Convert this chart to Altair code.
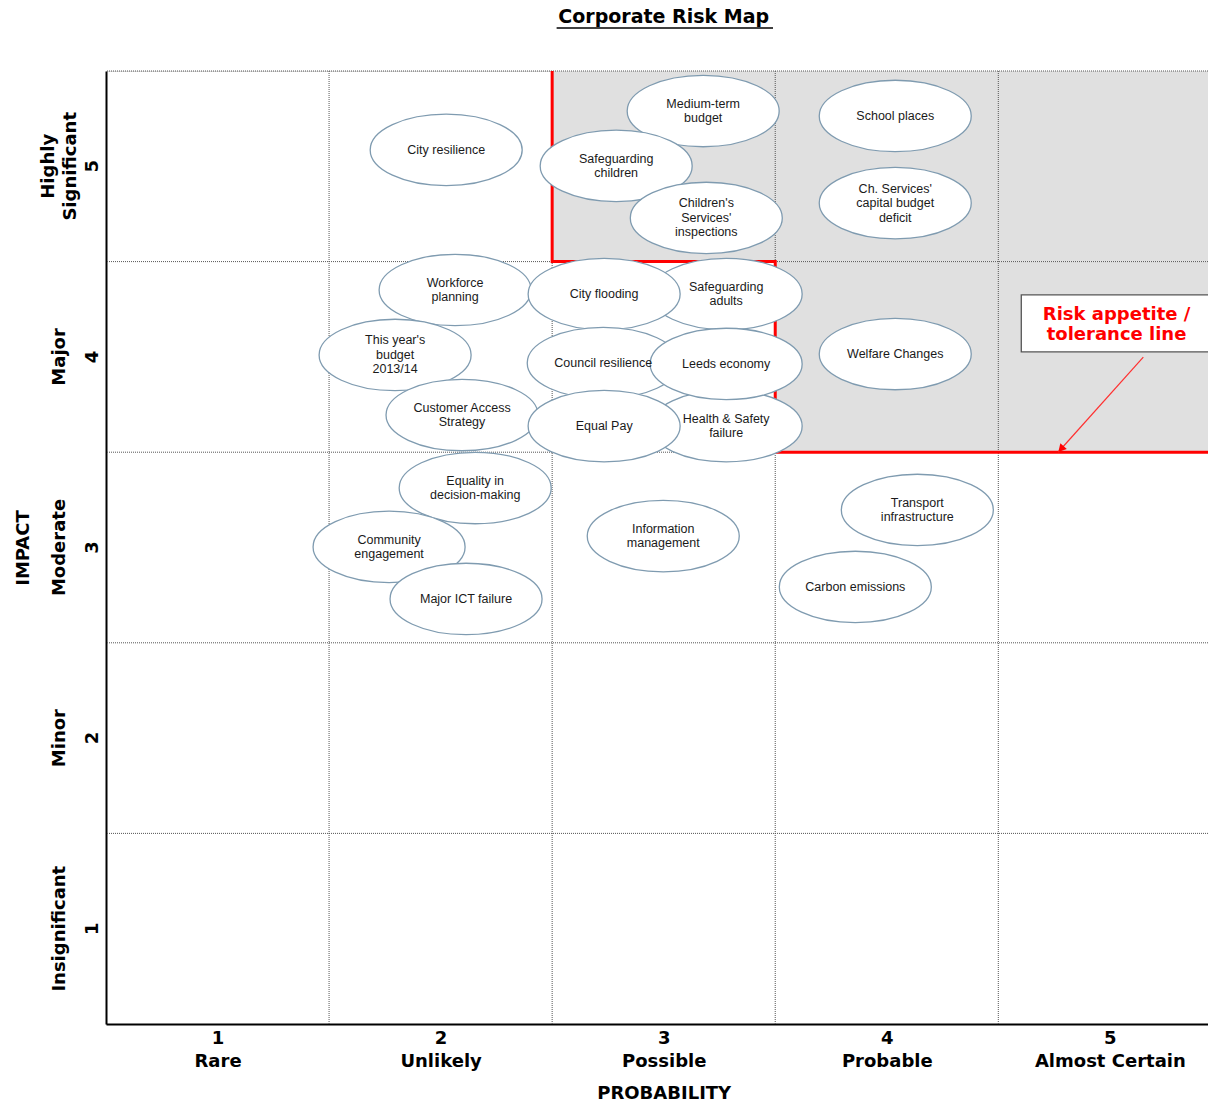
import json
import altair as alt
import pandas as pd

# ---------------- data ----------------
risk_labels = [
    "Medium-term\nbudget",
    "Safeguarding\nchildren",
    "Children's\nServices'\ninspections",
    "School places",
    "Ch. Services'\ncapital budget\ndeficit",
    "City resilience",
    "Workforce\nplanning",
    "This year's\nbudget\n2013/14",
    "Customer Access\nStrategy",
    "Safeguarding\nadults",
    "City flooding",
    "Council resilience",
    "Health & Safety\nfailure",
    "Leeds economy",
    "Equal Pay",
    "Welfare Changes",
    "Equality in\ndecision-making",
    "Community\nengagement",
    "Major ICT failure",
    "Information\nmanagement",
    "Transport\ninfrastructure",
    "Carbon emissions",
]
risk_probability = [3.177, 2.787, 3.191, 4.038, 4.038, 2.025, 2.065, 1.796, 2.096,
                    3.280, 2.733, 2.729, 3.280, 3.280, 2.733, 4.038, 2.155, 1.769,
                    2.114, 2.998, 4.137, 3.859]
risk_impact = [5.290, 5.002, 4.729, 5.264, 4.807, 5.086, 4.351, 4.010, 3.695,
               4.330, 4.330, 3.968, 3.637, 3.963, 3.637, 4.015, 3.312, 3.003,
               2.730, 3.060, 3.197, 2.793]

prob_ticks = [1, 2, 3, 4, 5]
prob_names = ["Rare", "Unlikely", "Possible", "Probable", "Almost Certain"]
impact_ticks = [1, 2, 3, 4, 5]
impact_names = ["Insignificant", "Minor", "Moderate", "Major", "Highly\nSignificant"]

grid_cuts = [1.5, 2.5, 3.5, 4.5]
top_edge = [5.5]

zone_x = [2.5, 3.5]
zone_x2 = [5.5, 5.5]
zone_y = [4.5, 3.5]
zone_y2 = [5.5, 4.5]

tolerance_x = [2.5, 2.5, 3.5, 3.5, 5.5]
tolerance_y = [5.5, 4.5, 4.5, 3.5, 3.5]

note_text = "Risk appetite /\ntolerance line"
note_box_x = [4.603]
note_box_x2 = [5.5]
note_box_y = [4.026]
note_box_y2 = [4.325]
note_text_x = [5.03]
note_text_y = [4.178]
arrow_x = [5.150]
arrow_y = [3.999]
arrow_x2 = [4.769]
arrow_y2 = [3.501]

chart_title = "Corporate Risk Map"

# ---------------- tables ----------------
risks = pd.DataFrame({"label": risk_labels, "p": risk_probability, "i": risk_impact})
impact_df = pd.DataFrame({"v": impact_ticks, "name": impact_names,
                          "num": [str(v) for v in impact_ticks]})
cuts_df = pd.DataFrame({"c": grid_cuts})
top_df = pd.DataFrame({"c": top_edge})
zones = pd.DataFrame({"x": zone_x, "x2": zone_x2, "y": zone_y, "y2": zone_y2})
tol = pd.DataFrame({"x": tolerance_x, "y": tolerance_y, "o": list(range(len(tolerance_x)))})
note_box = pd.DataFrame({"x": note_box_x, "x2": note_box_x2, "y": note_box_y, "y2": note_box_y2})
note_df = pd.DataFrame({"x": note_text_x, "y": note_text_y, "t": [note_text]})
arrow = pd.DataFrame({"x": arrow_x, "y": arrow_y, "x2": arrow_x2, "y2": arrow_y2})

W, H = 1102, 953
X_DOMAIN = [0.5, 5.44]
XS = alt.Scale(domain=X_DOMAIN, nice=False, zero=False)
YS = alt.Scale(domain=[0.5, 5.5], nice=False, zero=False)
PX_PER_Y = H / 5.0
CENTER_X_PX = (3 - X_DOMAIN[0]) / (X_DOMAIN[1] - X_DOMAIN[0]) * W

BOLD = "DejaVu Sans"
ELL = "M -1 0 A 1 0.47 0 1 1 1 0 A 1 0.47 0 1 1 -1 0 Z"
ARROWHEAD = "M 0 0 L -0.55 -1 L 0.55 -1 Z"

label_expr = "[datum.label, " + json.dumps(prob_names) + "[datum.value - 1]]"

x_axis = alt.Axis(values=prob_ticks, labelExpr=label_expr, labelFont=BOLD,
                  labelFontWeight="bold", labelFontSize=18, labelColor="black",
                  labelLineHeight=23, labelPadding=5, labelAngle=0, labelFlush=False,
                  labelOverlap=False, ticks=False, tickSize=0, grid=False,
                  domainColor="black", domainWidth=2, title="PROBABILITY",
                  titleFont=BOLD, titleFontWeight="bold", titleFontSize=18,
                  titleColor="black", titlePadding=14, titleX=CENTER_X_PX,
                  titleAlign="center")
y_axis = alt.Axis(values=impact_ticks, labels=False, ticks=False, tickSize=0, grid=False,
                  domainColor="black", domainWidth=2, title="IMPACT",
                  titleFont=BOLD, titleFontWeight="bold", titleFontSize=18,
                  titleColor="black", titlePadding=74)


def X(f):
    return alt.X(f, scale=XS, axis=x_axis)


def Y(f):
    return alt.Y(f, scale=YS, axis=y_axis)


zones_layer = alt.Chart(zones).mark_rect(fill="#e0e0e0", clip=True).encode(
    x=X("x:Q"), x2="x2:Q", y=Y("y:Q"), y2="y2:Q",
)

rule_style = dict(color="#555555", strokeDash=[1, 1], strokeWidth=1)
vgrid = alt.Chart(cuts_df).mark_rule(**rule_style).encode(x=X("c:Q"))
hgrid = alt.Chart(cuts_df).mark_rule(**rule_style).encode(y=Y("c:Q"))
topline = alt.Chart(top_df).mark_rule(**rule_style).encode(y=Y("c:Q"))

tol_line = alt.Chart(tol).mark_line(color="#ff0000", strokeWidth=3, clip=True,
                                     strokeJoin="miter", strokeCap="square").encode(
    x=X("x:Q"), y=Y("y:Q"), order="o:Q",
)

box_layer = alt.Chart(note_box).mark_rect(fill="white", stroke="#555555", strokeWidth=1.3,
                                          clip=True).encode(
    x=X("x:Q"), x2="x2:Q", y=Y("y:Q"), y2="y2:Q",
)
note_layer = alt.Chart(note_df).mark_text(font=BOLD, fontWeight="bold", fontSize=18,
                                          color="#ff0000", lineBreak="\n", lineHeight=20,
                                          align="center", baseline="middle", dy=-8).encode(
    x=X("x:Q"), y=Y("y:Q"), text="t:N",
)
arrow_line = alt.Chart(arrow).mark_rule(color="#ff3030", strokeWidth=1.2).encode(
    x=X("x:Q"), x2="x2:Q", y=Y("y:Q"), y2="y2:Q",
)
arrow_head = alt.Chart(arrow).mark_point(shape=ARROWHEAD, size=250, filled=True,
                                         fill="#ff0000", opacity=1, angle=41.8).encode(
    x=X("x2:Q"), y=Y("y2:Q"),
)

ellipses = alt.Chart(risks).mark_point(shape=ELL, size=152 * 152, filled=True,
                                       fill="white", stroke="#7f9bb0", strokeWidth=1.3,
                                       opacity=1, fillOpacity=1, strokeOpacity=1).encode(
    x=X("p:Q"), y=Y("i:Q"),
)
ellipse_text = alt.Chart(risks).transform_calculate(
    it="datum.i + (length(split(datum.label, '\\n')) - 1) * 7.25 / " + str(PX_PER_Y)
).mark_text(font="Liberation Sans", fontSize=12.5, lineHeight=14.5, lineBreak="\n",
            color="#1a1a1a", align="center", baseline="middle").encode(
    x=X("p:Q"), y=Y("it:Q"), text="label:N",
)

name_style = dict(font=BOLD, fontWeight="bold", fontSize=18, lineBreak="\n", lineHeight=22,
                  angle=270, align="center", baseline="middle", color="black")
names_single = alt.Chart(impact_df).transform_filter(
    "indexof(datum.name, '\\n') < 0").mark_text(**name_style).encode(
    x=alt.value(-46), y=Y("v:Q"), text="name:N",
)
names_multi = alt.Chart(impact_df).transform_filter(
    "indexof(datum.name, '\\n') >= 0").mark_text(dy=-11, **name_style).encode(
    x=alt.value(-46), y=Y("v:Q"), text="name:N",
)
impact_nums_layer = alt.Chart(impact_df).mark_text(font=BOLD, fontWeight="bold", fontSize=18,
                                                   angle=270, align="center", baseline="middle",
                                                   color="black").encode(
    x=alt.value(-13), y=Y("v:Q"), text="num:N",
)

title_layer = alt.Chart(pd.DataFrame({"t": [chart_title]})).mark_text(
    font=BOLD, fontWeight="bold", fontSize=19, color="black", align="center",
    baseline="middle").encode(
    x=alt.datum(3, scale=XS, axis=x_axis),
    y=alt.value(-54),
    text="t:N",
)
underline = alt.Chart(pd.DataFrame({"a": [2.52], "b": [3.49]})).mark_rule(
    color="black", strokeWidth=1.5).encode(
    x=X("a:Q"), x2="b:Q", y=alt.value(-43),
)

chart = alt.layer(
    zones_layer, vgrid, hgrid, topline, tol_line, box_layer, note_layer, arrow_line,
    arrow_head, ellipses, ellipse_text, names_single, names_multi, impact_nums_layer,
    title_layer, underline,
).properties(
    width=W, height=H,
    autosize=alt.AutoSizeParams(type="none"),
    padding={"left": 106, "top": 71, "right": 0, "bottom": 77},
).configure_view(stroke=None).configure(background="white")

chart.save("out.html", embed_options={"renderer": "svg", "actions": False})
